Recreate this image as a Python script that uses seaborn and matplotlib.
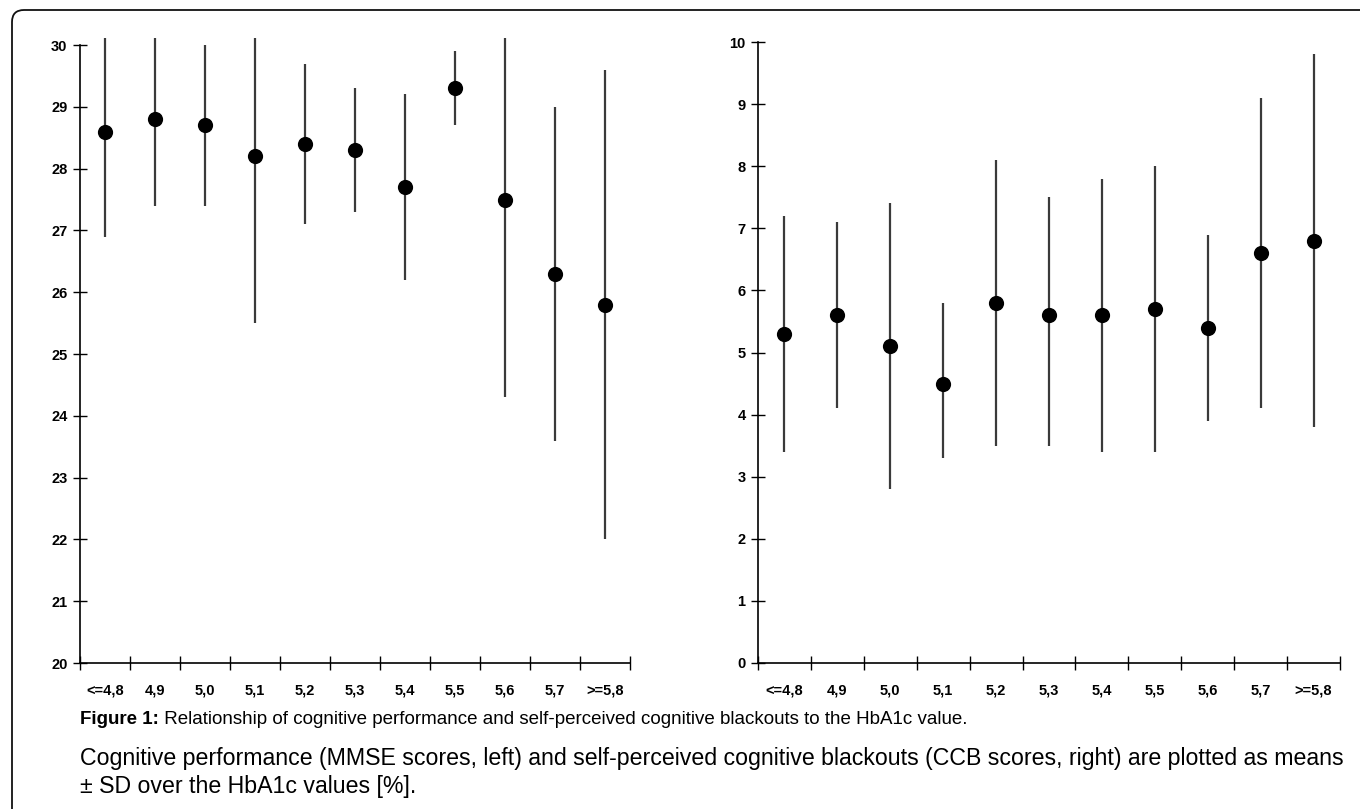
import matplotlib
matplotlib.use("Agg")
import matplotlib.pyplot as plt
import seaborn as sns
import pandas as pd
from matplotlib.patches import FancyBboxPatch

# ---- data ----
categories_left = ["<=4,8", "4,9", "5,0", "5,1", "5,2", "5,3", "5,4", "5,5", "5,6", "5,7", ">=5,8"]
categories_right = ["<=4,8", "4,9", "5,0", "5,1", "5,2", "5,3", "5,4", "5,5", "5,6", "5,7", ">=5,8"]

mmse_mean = [28.6, 28.8, 28.7, 28.2, 28.4, 28.3, 27.7, 29.3, 27.5, 26.3, 25.8]
mmse_low = [26.9, 27.4, 27.4, 25.5, 27.1, 27.3, 26.2, 28.7, 24.3, 23.6, 22.0]
mmse_high = [30.3, 30.2, 30.0, 30.9, 29.7, 29.3, 29.2, 29.9, 30.7, 29.0, 29.6]

ccb_mean = [5.3, 5.6, 5.1, 4.5, 5.8, 5.6, 5.6, 5.7, 5.4, 6.6, 6.8]
ccb_low = [3.4, 4.1, 2.8, 3.3, 3.5, 3.5, 3.4, 3.4, 3.9, 4.1, 3.8]
ccb_high = [7.2, 7.1, 7.4, 5.8, 8.1, 7.5, 7.8, 8.0, 6.9, 9.1, 9.8]

left_yticks = [20, 21, 22, 23, 24, 25, 26, 27, 28, 29, 30]
right_yticks = [0, 1, 2, 3, 4, 5, 6, 7, 8, 9, 10]

caption_bold = "Figure 1:"
caption_line1 = " Relationship of cognitive performance and self-perceived cognitive blackouts to the HbA1c value."
caption_line2 = ("Cognitive performance (MMSE scores, left) and self-perceived cognitive blackouts "
                 "(CCB scores, right) are plotted as means")
caption_line3 = "\u00b1 SD over the HbA1c values [%]."

sns.set_theme(style="white")
plt.rcParams["font.family"] = ["Liberation Sans", "DejaVu Sans"]

W, H = 1360, 809
fig = plt.figure(figsize=(W / 100, H / 100), dpi=100)
fig.patch.set_facecolor("white")

# border (rounded top-left corner, open at right/bottom)
border = FancyBboxPatch((0.12, -0.5), 14.5, (H - 10) / 100 + 0.5,
                        boxstyle="round,pad=0,rounding_size=0.12",
                        transform=fig.dpi_scale_trans, fill=False,
                        edgecolor="#111111", linewidth=1.3, zorder=0)
fig.patches.append(border)


def px_axes(x0, x1, y_bottom, y_top):
    return fig.add_axes([x0 / W, (H - y_bottom) / H, (x1 - x0) / W, (y_bottom - y_top) / H])


def draw_panel(ax, cats, mean, low, high, ymin, ymax_spine, ymax, yticks):
    df = pd.DataFrame({"cat": cats, "mean": mean, "low": low, "high": high})
    df["pos"] = range(len(cats))
    ax.vlines(df["pos"], df["low"], df["high"], colors="#3a3a3a", linewidth=1.6, zorder=2)
    sns.scatterplot(data=df, x="pos", y="mean", ax=ax, color="black", s=120,
                    marker="o", edgecolor="black", linewidth=0, zorder=3, legend=False)
    ax.set_xlim(-0.5, len(cats) - 0.5)
    ax.set_ylim(ymin, ymax)
    ax.set_facecolor("none")
    for s in ["top", "right"]:
        ax.spines[s].set_visible(False)
    for s in ["left", "bottom"]:
        ax.spines[s].set_color("black")
        ax.spines[s].set_linewidth(1.2)
    ax.spines["left"].set_bounds(ymin, ymax_spine)
    ax.set_yticks(yticks)
    ax.set_yticklabels([str(t) for t in yticks], fontsize=10.5, fontweight="bold")
    # major ticks at category boundaries, labels at centres
    ax.set_xticks([i - 0.5 for i in range(len(cats) + 1)])
    ax.set_xticklabels([])
    ax.set_xticks(list(range(len(cats))), minor=True)
    ax.set_xticklabels(cats, minor=True, fontsize=10.5, fontweight="bold")
    ax.tick_params(axis="x", which="major", bottom=True, direction="inout", length=10,
                   width=1.0, color="black")
    ax.tick_params(axis="x", which="minor", bottom=True, length=0, pad=15, labelcolor="black")
    ax.tick_params(axis="y", which="major", left=True, direction="inout", length=10,
                   width=1.0, color="black", pad=4, labelcolor="black")
    ax.set_xlabel("")
    ax.set_ylabel("")
    ax.grid(False)


ax1 = px_axes(80, 630, 663, 663 - 10.12 * 61.8)
draw_panel(ax1, categories_left, mmse_mean, mmse_low, mmse_high, 20, 30, 30.12, left_yticks)

ax2 = px_axes(758, 1340, 663, 42)
draw_panel(ax2, categories_right, ccb_mean, ccb_low, ccb_high, 0, 10, 10, right_yticks)

# caption
renderer = fig.canvas.get_renderer()


def width_px(t):
    return t.get_window_extent(renderer=renderer).width


fs1 = 13.5
t_bold = fig.text(80 / W, 1 - 720 / H, caption_bold, fontsize=fs1, fontweight="bold",
                  va="center", ha="left", color="black")
t_rest = fig.text(0, 1 - 720 / H, caption_line1, fontsize=fs1,
                  va="center", ha="left", color="black")
t_rest.set_x((80 + width_px(t_bold)) / W)

t2 = fig.text(80 / W, 1 - 758 / H, caption_line2, fontsize=16, va="center", ha="left", color="black")
fs2 = 16 * (1345 - 80) / width_px(t2)
t2.set_fontsize(fs2)
fig.text(80 / W, 1 - 786 / H, caption_line3, fontsize=fs2, va="center", ha="left", color="black")

fig.savefig("out.png", dpi=100, facecolor="white")
